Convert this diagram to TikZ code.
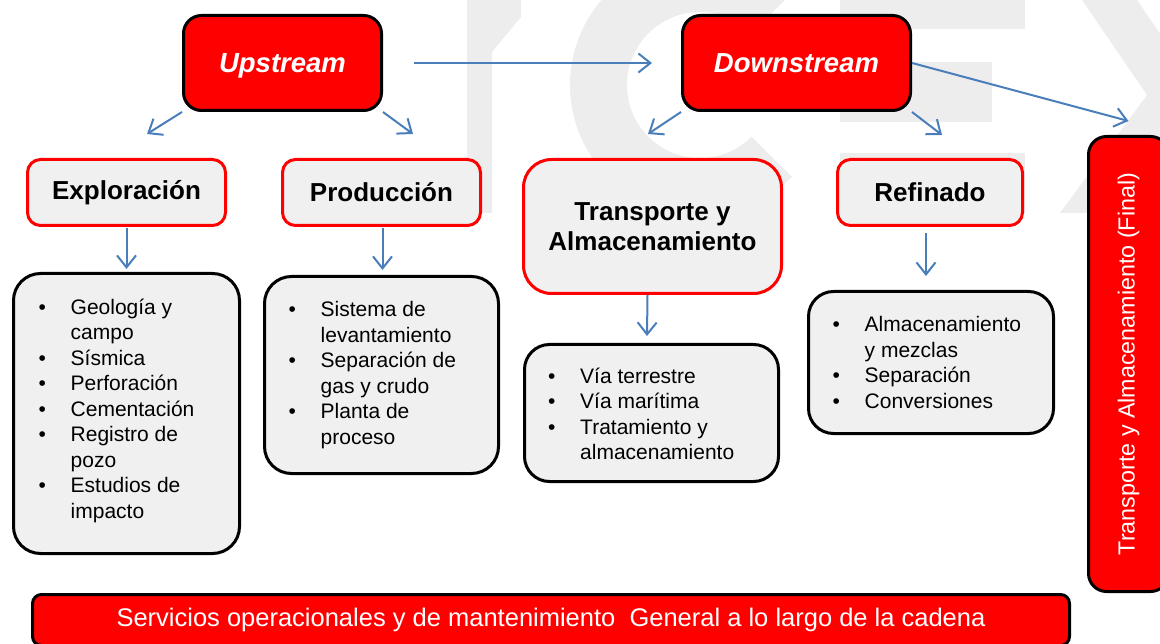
\documentclass[tikz,border=0pt]{standalone}
\usepackage{fontspec}
\setmainfont{Liberation Sans}
\usetikzlibrary{arrows.meta}
\definecolor{wm}{HTML}{EDEDED}
\definecolor{boxgray}{HTML}{F0F0F0}
\definecolor{ablue}{HTML}{4A7EBB}
\definecolor{pred}{HTML}{FF0000}
\newcommand\bl{\makebox[32pt][l]{\textbullet}}
\newcommand\nl{\makebox[32pt][l]{}}
\begin{document}
\begin{tikzpicture}[x=1pt,y=-1pt,
  upbox/.style={draw=black, line width=3pt, fill=pred, rounded corners=18pt, text=white,
    font=\bfseries\itshape\fontsize{27.5}{32}\selectfont, minimum height=95pt, text depth=0pt},
  headbox/.style={draw=pred, line width=3pt, fill=boxgray, rounded corners=13pt,
    font=\bfseries\fontsize{26}{30}\selectfont, align=center},
  listbox/.style={draw=black, line width=3pt, fill=boxgray, rounded corners=27pt},
  listtext/.style={inner sep=0pt, align=left, font=\fontsize{21}{25.5}\selectfont, anchor=west},
  redbar/.style={draw=black, line width=3pt, fill=pred, text=white},
  arr/.style={draw=ablue, line width=2pt, -{Straight Barb[length=12pt,width=19pt,line width=2pt]}}
]
\useasboundingbox (0,0) rectangle (1160,644);
% watermark
\fill[wm] (467,0) -- (521,0) -- (521,17) -- (492,52) -- (492,213) -- (467,213) -- cycle;
\fill[wm] (791.9,176.9) arc[start angle=45,end angle=315,radius=130] -- (751.6,33.4) arc[start angle=315,end angle=45,radius=73] -- cycle;
\fill[wm] (840,-31) rectangle (1025,29);
\fill[wm] (840,62) rectangle (992,122);
\fill[wm] (840,153) rectangle (1025,213);
\fill[wm] (1082,0) -- (1137,0) -- (1202,95) -- (1115,213) -- (1060,213) -- (1147,95) -- cycle;

% top boxes
\node[upbox, minimum width=198pt] (up) at (282.5,63) {Upstream};
\node[upbox, minimum width=228pt] (down) at (796.5,63) {Downstream};

% headers
\node[headbox, minimum width=198pt, minimum height=66pt] (expl) at (126.5,192.5) {Exploración};
\node[headbox, minimum width=198pt, minimum height=66pt] (prod) at (381.5,192.5) {Producción};
\node[headbox, minimum width=258pt, minimum height=134pt, rounded corners=28pt] (trans) at (652.5,226.5) {Transporte y\\Almacenamiento};
\node[headbox, minimum width=185pt, minimum height=66pt] (ref) at (930,192.5) {Refinado};

% list boxes
\node[listbox, minimum width=226pt, minimum height=280pt] (expll) at (126.5,413.5) {};
\node[listbox, minimum width=234pt, minimum height=197pt] (prodl) at (381.5,375) {};
\node[listbox, minimum width=254pt, minimum height=137pt, rounded corners=25pt] (transl) at (651.5,413) {};
\node[listbox, minimum width=245pt, minimum height=142pt, rounded corners=25pt] (refl) at (931,362.5) {};

\node[listtext] (expltx) at ([xshift=26.5pt,yshift=3pt]expll.west)
  {\bl Geología y\\\nl campo\\\bl Sísmica\\\bl Perforación\\\bl Cementación\\\bl Registro de\\\nl pozo\\\bl Estudios de\\\nl impacto};
\node[listtext] (prodtx) at ([xshift=25.5pt]prodl.west)
  {\bl Sistema de\\\nl levantamiento\\\bl Separación de\\\nl gas y crudo\\\bl Planta de\\\nl proceso};
\node[listtext] (transtx) at ([xshift=25pt,yshift=-1pt]transl.west)
  {\bl Vía terrestre\\\bl Vía marítima\\\bl Tratamiento y\\\nl almacenamiento};
\node[listtext] (reftx) at ([xshift=25.5pt]refl.west)
  {\bl Almacenamiento\\\nl y mezclas\\\bl Separación\\\bl Conversiones};

% final vertical box
\node[redbar, rotate=90, rounded corners=18pt, minimum width=455pt, minimum height=80pt,
  font=\fontsize{23.3}{27}\selectfont] (final) at (1128.5,364) {Transporte y Almacenamiento (Final)};

% bottom bar
\node[redbar, rounded corners=9pt, minimum width=1037pt, minimum height=51pt,
  font=\fontsize{25.5}{30}\selectfont] (serv) at (551,620) {Servicios operacionales y de mantenimiento\ \ General a lo largo de la cadena};

% arrows
\coordinate (t1) at (147,134);
\coordinate (t2) at (413,134);
\coordinate (t3) at (648,134);
\coordinate (t4) at (942,135);
\draw[arr] ([xshift=31pt]up.east) -- ([xshift=-29pt]down.west);
\draw[arr] (up.south west) -- (t1);
\draw[arr] (up.south east) -- (t2);
\draw[arr] (down.south west) -- (t3);
\draw[arr] (down.south east) -- (t4);
\draw[arr] (down.east) -- ([yshift=14pt]final.east);
\draw[arr] ([yshift=-1pt]expl.south) -- ([yshift=3pt]expll.north);
\draw[arr] ([xshift=1pt,yshift=-1pt]prod.south) -- ([xshift=1pt,yshift=5pt]prodl.north);
\draw[arr] ([xshift=-5pt]trans.south) -- ([xshift=-4.5pt,yshift=7pt]transl.north);
\draw[arr] ([xshift=-4pt,yshift=-6pt]ref.south) -- ([xshift=-5pt,yshift=14pt]refl.north);
\end{tikzpicture}
\end{document}
